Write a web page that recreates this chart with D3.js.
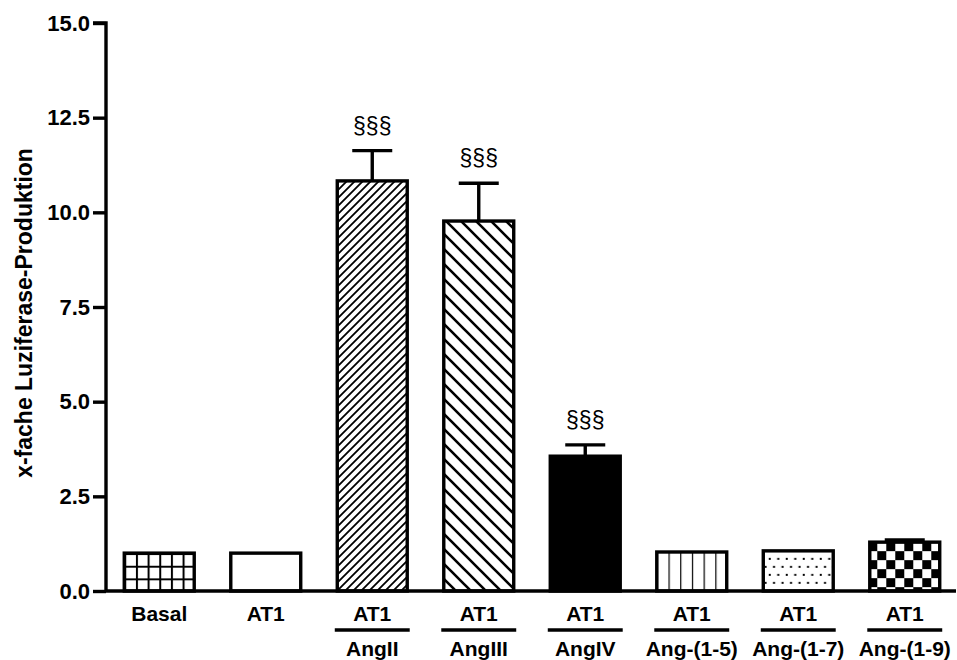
<!DOCTYPE html>
<html>
<head>
<meta charset="utf-8">
<script src="https://cdn.jsdelivr.net/npm/d3@7"></script>
<style>
  html, body { margin: 0; padding: 0; background: #fff; }
  svg { display: block; font-family: "Liberation Sans", Arial, sans-serif; }
</style>
</head>
<body>
<svg id="chart" width="957" height="660"></svg>
<script>
// Luciferase assay: fold induction per stimulus
const receptors = ["Basal", "AT1", "AT1", "AT1", "AT1", "AT1", "AT1", "AT1"];
const ligands   = ["", "", "AngII", "AngIII", "AngIV", "Ang-(1-5)", "Ang-(1-7)", "Ang-(1-9)"];
const means     = [1.0, 1.0, 10.83, 9.77, 3.56, 1.03, 1.06, 1.29];
const sems      = [0, 0, 0.80, 1.00, 0.30, 0, 0, 0.06];
const marks     = ["", "", "§§§", "§§§", "§§§", "", "", ""];
const fills     = ["grid", "none", "diagUp", "diagDown", "solid", "vert", "dots", "checker"];
const yTicks    = [0, 2.5, 5, 7.5, 10, 12.5, 15];

const svg = d3.select("#chart");
const margin = { left: 106, right: 0, top: 23, bottom: 69 };
const W = 957, H = 660;

const x = d3.scaleBand()
  .domain(d3.range(means.length))
  .range([margin.left, 958])
  .paddingInner(0.315)
  .paddingOuter(0.1575);

const y = d3.scaleLinear()
  .domain([0, 15])
  .range([H - margin.bottom, margin.top]);

// Fill patterns
const defs = svg.append("defs");

const cellW = (x.bandwidth() - 3) / 6;
const cellH = (y(0) - y(means[0])) / 3;
const grid = defs.append("pattern").attr("id", "grid")
  .attr("patternUnits", "userSpaceOnUse").attr("width", cellW).attr("height", cellH)
  .attr("x", x(0) + 1.5).attr("y", y(means[0]));
grid.append("rect").attr("width", cellW).attr("height", cellH).attr("fill", "#fff");
grid.append("path").attr("d", `M0,0H${cellW}M0,0V${cellH}`).attr("stroke", "#000").attr("stroke-width", 4);

const diagUp = defs.append("pattern").attr("id", "diagUp")
  .attr("patternUnits", "userSpaceOnUse").attr("width", 8).attr("height", 8);
diagUp.append("rect").attr("width", 8).attr("height", 8).attr("fill", "#fff");
diagUp.append("path").attr("d", "M-2,2L2,-2M0,8L8,0M6,10L10,6")
  .attr("stroke", "#000").attr("stroke-width", 1.8);

const diagDown = defs.append("pattern").attr("id", "diagDown")
  .attr("patternUnits", "userSpaceOnUse").attr("width", 15).attr("height", 15);
diagDown.append("rect").attr("width", 15).attr("height", 15).attr("fill", "#fff");
diagDown.append("path").attr("d", "M-3,12L3,18M0,0L15,15M12,-3L18,3")
  .attr("stroke", "#000").attr("stroke-width", 2.6);

const vert = defs.append("pattern").attr("id", "vert")
  .attr("patternUnits", "userSpaceOnUse").attr("width", 11.7).attr("height", 10)
  .attr("x", x(5) + 1.5);
vert.append("rect").attr("width", 11.7).attr("height", 10).attr("fill", "#fff");
vert.append("path").attr("d", "M0,0V10").attr("stroke", "#000").attr("stroke-width", 2.4);

const dots = defs.append("pattern").attr("id", "dots")
  .attr("patternUnits", "userSpaceOnUse").attr("width", 17).attr("height", 16)
  .attr("x", x(6) + 4).attr("y", y(means[6]) + 4);
dots.append("rect").attr("width", 17).attr("height", 16).attr("fill", "#fff");
dots.append("rect").attr("x", 3).attr("y", 3).attr("width", 2).attr("height", 2).attr("fill", "#000");
dots.append("rect").attr("x", 11.5).attr("y", 3).attr("width", 2).attr("height", 2).attr("fill", "#000");
dots.append("rect").attr("x", 7.25).attr("y", 11).attr("width", 2).attr("height", 2).attr("fill", "#000");
dots.append("rect").attr("x", 15.75).attr("y", 11).attr("width", 2).attr("height", 2).attr("fill", "#000");
dots.append("rect").attr("x", -1.25).attr("y", 11).attr("width", 2).attr("height", 2).attr("fill", "#000");

const checker = defs.append("pattern").attr("id", "checker")
  .attr("patternUnits", "userSpaceOnUse").attr("width", 18).attr("height", 18)
  .attr("x", x(7)).attr("y", y(means[7]));
checker.append("rect").attr("width", 18).attr("height", 18).attr("fill", "#fff");
checker.append("rect").attr("width", 9).attr("height", 9).attr("fill", "#000");
checker.append("rect").attr("x", 9).attr("y", 9).attr("width", 9).attr("height", 9).attr("fill", "#000");

function fillOf(f) {
  if (f === "none") return "#fff";
  if (f === "solid") return "#000";
  return `url(#${f})`;
}

// Bars
svg.append("g").selectAll("rect")
  .data(means)
  .join("rect")
  .attr("x", (d, i) => x(i) + 1.5)
  .attr("y", d => y(d))
  .attr("width", x.bandwidth() - 3)
  .attr("height", d => y(0) - y(d))
  .attr("fill", (d, i) => fillOf(fills[i]))
  .attr("stroke", "#000")
  .attr("stroke-width", 3.4);

// Error bars (upper whisker only)
const err = svg.append("g").attr("stroke", "#000").attr("stroke-width", 3.4);
means.forEach((m, i) => {
  if (!sems[i]) return;
  const cx = x(i) + x.bandwidth() / 2;
  err.append("line").attr("x1", cx).attr("x2", cx)
    .attr("y1", y(m)).attr("y2", y(m + sems[i]));
  err.append("line").attr("x1", cx - 20).attr("x2", cx + 20)
    .attr("y1", y(m + sems[i])).attr("y2", y(m + sems[i]));
});

// Significance marks
svg.append("g").selectAll("text")
  .data(marks)
  .join("text")
  .attr("x", (d, i) => x(i) + x.bandwidth() / 2)
  .attr("y", (d, i) => y(means[i] + sems[i]) - 17)
  .attr("text-anchor", "middle")
  .attr("font-size", 23)
  .attr("fill", "#000")
  .text(d => d);

// Y axis
const yAxis = svg.append("g")
  .attr("transform", `translate(${margin.left},0)`)
  .call(d3.axisLeft(y).tickValues(yTicks).tickFormat(d3.format(".1f")).tickSize(13).tickPadding(3));
yAxis.select(".domain").attr("stroke-width", 3.4).attr("d", `M-13,${y(15)}H0V${y(0)}`);
yAxis.selectAll(".tick line").attr("stroke-width", 3.4);
yAxis.selectAll(".tick text")
  .attr("font-size", 22).attr("font-weight", "bold").attr("fill", "#000")
  .attr("font-family", "Liberation Sans, Arial, sans-serif");

// X axis baseline
svg.append("line")
  .attr("x1", margin.left).attr("x2", 956)
  .attr("y1", y(0)).attr("y2", y(0))
  .attr("stroke", "#000").attr("stroke-width", 3.4);

// Category labels
const lab = svg.append("g").attr("font-size", 21).attr("font-weight", "bold")
  .attr("text-anchor", "middle").attr("fill", "#000");
receptors.forEach((r, i) => {
  const cx = x(i) + x.bandwidth() / 2;
  lab.append("text").attr("x", cx).attr("y", 621).text(r);
  if (ligands[i]) {
    lab.append("line")
      .attr("x1", x(i) - 1).attr("x2", x(i) + x.bandwidth() + 1)
      .attr("y1", 630).attr("y2", 630)
      .attr("stroke", "#000").attr("stroke-width", 3.4);
    lab.append("text").attr("x", cx).attr("y", 656).text(ligands[i]);
  }
});

// Y axis title
svg.append("text")
  .attr("transform", `translate(32,${(y(0) + y(15)) / 2 + 6}) rotate(-90)`)
  .attr("text-anchor", "middle")
  .attr("font-size", 23).attr("font-weight", "bold").attr("fill", "#000")
  .text("x-fache Luziferase-Produktion");
</script>
</body>
</html>
